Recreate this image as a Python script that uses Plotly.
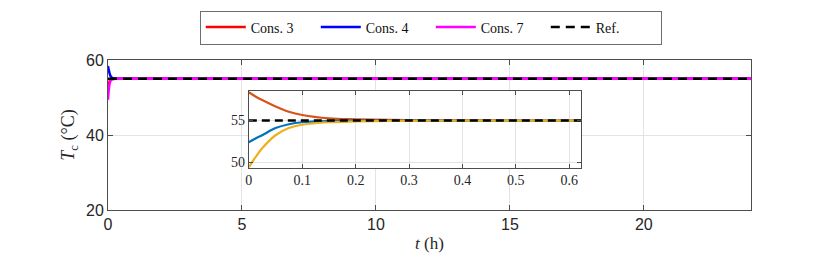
import plotly.graph_objects as go

# ---- data ----
t_h = [0, 0.0125, 0.025, 0.05, 0.075, 0.1, 0.15, 0.2, 0.3, 0.4, 0.6, 24]
cons3 = [52.4, 52.85, 53.24, 54.1, 54.56, 54.8, 54.95, 54.99, 55.0, 55.0, 55.0, 55.0]
cons4 = [58.4, 57.9, 57.47, 56.7, 56.06, 55.67, 55.27, 55.15, 55.05, 55.02, 55.0, 55.0]
cons7 = [49.4, 50.6, 51.67, 53.24, 54.1, 54.5, 54.8, 54.9, 54.97, 54.99, 55.0, 55.0]
ref_t = [0, 24]
ref_v = [55, 55]

main_xticks = [0, 5, 10, 15, 20]
main_yticks = [20, 40, 60]
inset_xticks = [0, 0.1, 0.2, 0.3, 0.4, 0.5, 0.6]
inset_yticks = [50, 55]

legend_names = ["Cons. 3", "Cons. 4", "Cons. 7", "Ref."]
main_colors = ["#ff0000", "#0000ff", "#ff00ff"]
inset_colors = ["#0072bd", "#d95319", "#edb120"]

fig = go.Figure()

series = [cons3, cons4, cons7]
# main plot traces
for name, ys, col in zip(legend_names[:3], series, main_colors):
    fig.add_trace(go.Scatter(x=t_h, y=ys, mode="lines", name=name,
                             line=dict(color=col, width=2.5, shape="spline"),
                             xaxis="x", yaxis="y"))
fig.add_trace(go.Scatter(x=ref_t, y=ref_v, mode="lines", name=legend_names[3],
                         line=dict(color="black", width=2.5, dash="9px,6px"),
                         xaxis="x", yaxis="y"))

# inset traces (draw order: Cons.4, Cons.3, Cons.7, Ref)
order = [1, 0, 2]
for i in order:
    fig.add_trace(go.Scatter(x=t_h, y=series[i], mode="lines", showlegend=False,
                             line=dict(color=inset_colors[i], width=2.2, shape="spline"),
                             xaxis="x2", yaxis="y2"))
fig.add_trace(go.Scatter(x=ref_t, y=ref_v, mode="lines", showlegend=False,
                         line=dict(color="black", width=2.5, dash="8px,5px"),
                         xaxis="x2", yaxis="y2"))

axis_col = "#4d4d4d"
grid_col = "#e3e3e3"
sans = "Liberation Sans, Arial, sans-serif"
serif = "Liberation Serif, Times New Roman, serif"

inset_xr = [0, 0.622]
inset_yr = [49.35, 58.6]

# page body has an 8px margin, so the figure is 8px smaller and margins shifted
fig.update_layout(
    width=822, height=252,
    margin=dict(l=100, r=79, t=52, b=49.5, autoexpand=False),
    paper_bgcolor="white", plot_bgcolor="white",
    showlegend=True,
    legend=dict(orientation="h", x=0.502, xanchor="center", y=1.33, yanchor="top",
                bordercolor="#6e6e6e", borderwidth=1, bgcolor="white",
                font=dict(family=serif, size=14, color="#111"),
                entrywidth=60, entrywidthmode="pixels",
                tracegroupgap=0, itemwidth=40),
    xaxis=dict(domain=[0, 1], range=[0, 24], tickvals=main_xticks,
               ticks="inside", ticklen=5, tickcolor=axis_col,
               showline=True, linecolor=axis_col, linewidth=1, mirror="ticks",
               showgrid=True, gridcolor=grid_col, zeroline=False,
               tickfont=dict(family=sans, size=16, color="#262626"),
               title=dict(text="<i>t</i> (h)", font=dict(family=serif, size=17, color="#262626"),
                          standoff=4)),
    yaxis=dict(domain=[0, 1], range=[20, 60], tickvals=main_yticks,
               ticks="inside", ticklen=5, tickcolor=axis_col,
               showline=True, linecolor=axis_col, linewidth=1, mirror="ticks",
               showgrid=True, gridcolor=grid_col, zeroline=False,
               tickfont=dict(family=sans, size=16, color="#262626"),
               title=dict(text="<i>T</i><sub>c</sub> (°C)", font=dict(family=serif, size=18, color="#262626"),
                          standoff=6)),
    xaxis2=dict(domain=[0.219, 0.7356], range=inset_xr, tickvals=inset_xticks,
                anchor="y2", ticks="inside", ticklen=4, tickcolor=axis_col,
                showline=True, linecolor=axis_col, linewidth=1, mirror="ticks",
                showgrid=True, gridcolor=grid_col, zeroline=False,
                tickfont=dict(family=serif, size=14, color="#262626")),
    yaxis2=dict(domain=[0.2824, 0.796], range=inset_yr, tickvals=inset_yticks,
                anchor="x2", ticks="inside", ticklen=4, tickcolor=axis_col,
                showline=True, linecolor=axis_col, linewidth=1, mirror="ticks",
                showgrid=True, gridcolor=grid_col, zeroline=False,
                tickfont=dict(family=serif, size=14, color="#262626")),
    shapes=[dict(type="rect", xref="x2", yref="y2",
                 x0=inset_xr[0], x1=inset_xr[1], y0=inset_yr[0], y1=inset_yr[1],
                 fillcolor="white", line=dict(width=0), layer="below")],
)

fig.write_html("out.html")
